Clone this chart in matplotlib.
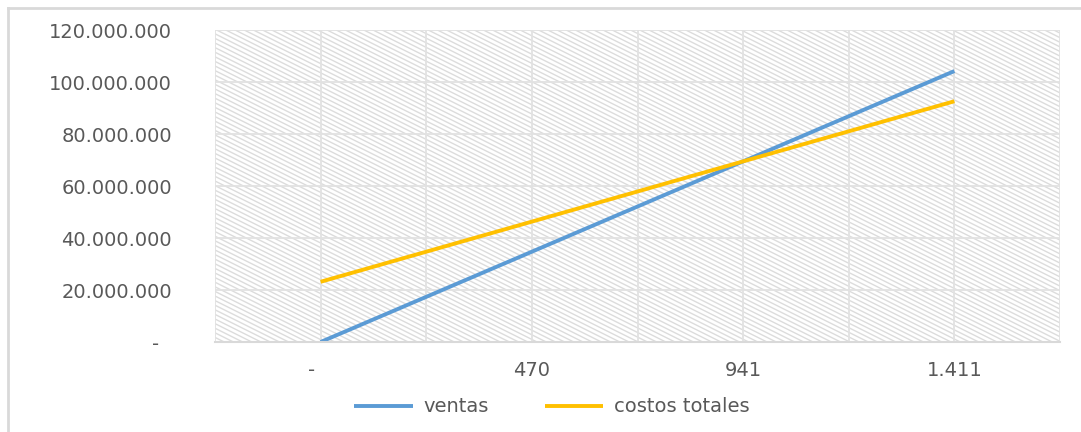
import matplotlib
matplotlib.use("Agg")
import numpy as np
import matplotlib.pyplot as plt
from matplotlib.lines import Line2D
from matplotlib.collections import LineCollection

# unidades vendidas (categorias) y montos en pesos
unidades = ["-   ", "470", "941", "1.411"]
ventas = [0, 34_730_000, 69_470_000, 104_200_000]
costos_totales = [23_160_000, 46_300_000, 69_470_000, 92_600_000]
y_ticks = [0, 20_000_000, 40_000_000, 60_000_000, 80_000_000, 100_000_000, 120_000_000]

gris_texto = "#595959"
gris_linea = "#d9d9d9"

plt.rcParams["font.family"] = ["DejaVu Sans"]

fig = plt.figure(figsize=(10.81, 4.32), dpi=100)
ax_w, ax_h = 845, 312
ax = fig.add_axes([215 / 1081, 90 / 432, ax_w / 1081, ax_h / 432])

# fondo rayado del area de trazado (rayas diagonales finas)
paso, pendiente = 4.6, 0.5
segs = []
for c in np.arange(0, ax_h + pendiente * ax_w + paso, paso):
    x0, y0 = 0, c
    x1, y1 = ax_w, c - pendiente * ax_w
    segs.append([(x0 / ax_w, y0 / ax_h), (x1 / ax_w, y1 / ax_h)])
rayas = LineCollection(segs, colors="#dcdcdc", linewidths=1.0,
                       transform=ax.transAxes, zorder=0.2)
ax.add_collection(rayas)
rayas.set_clip_path(ax.patch)

x = list(range(len(unidades)))
ax.plot(x, ventas, color="#5B9BD5", lw=2.8, label="ventas", solid_capstyle="butt")
ax.plot(x, costos_totales, color="#FFC000", lw=2.8, label="costos totales", solid_capstyle="butt")

ax.set_xlim(-0.5, len(unidades) - 0.5)
ax.set_ylim(0, 120_000_000)

# rejilla: lineas en cada categoria y entre categorias
for gx in [i / 2 - 0.5 for i in range(2 * len(unidades) + 1)]:
    ax.axvline(gx, color="#e2e2e2", lw=1.3, zorder=0.5)
for gy in y_ticks:
    ax.axhline(gy, color="#e2e2e2", lw=1.3, zorder=0.5)

ax.set_xticks(x)
ax.set_xticklabels(unidades)
ax.set_yticks(y_ticks)
ax.set_yticklabels(["-  " if v == 0 else f"{v:,}".replace(",", ".") for v in y_ticks])
ax.tick_params(axis="both", length=0, labelsize=14, labelcolor=gris_texto)
ax.tick_params(axis="x", pad=14)
ax.tick_params(axis="y", pad=31)

for side in ["top", "right", "left"]:
    ax.spines[side].set_visible(False)
ax.spines["bottom"].set_color(gris_linea)
ax.spines["bottom"].set_linewidth(1.5)

leg = fig.legend(loc="center", bbox_to_anchor=(552 / 1081, 25 / 432), ncol=2,
                 frameon=False, fontsize=14, handlelength=3.0, columnspacing=2.9,
                 handletextpad=0.55)
for t in leg.get_texts():
    t.set_color(gris_texto)

# borde del grafico
fig.add_artist(Line2D([8 / 1081, 8 / 1081], [0, 1 - 8 / 432], color=gris_linea, lw=2))
fig.add_artist(Line2D([8 / 1081, 1], [1 - 8 / 432, 1 - 8 / 432], color=gris_linea, lw=2))

fig.savefig("out.png", dpi=100)
